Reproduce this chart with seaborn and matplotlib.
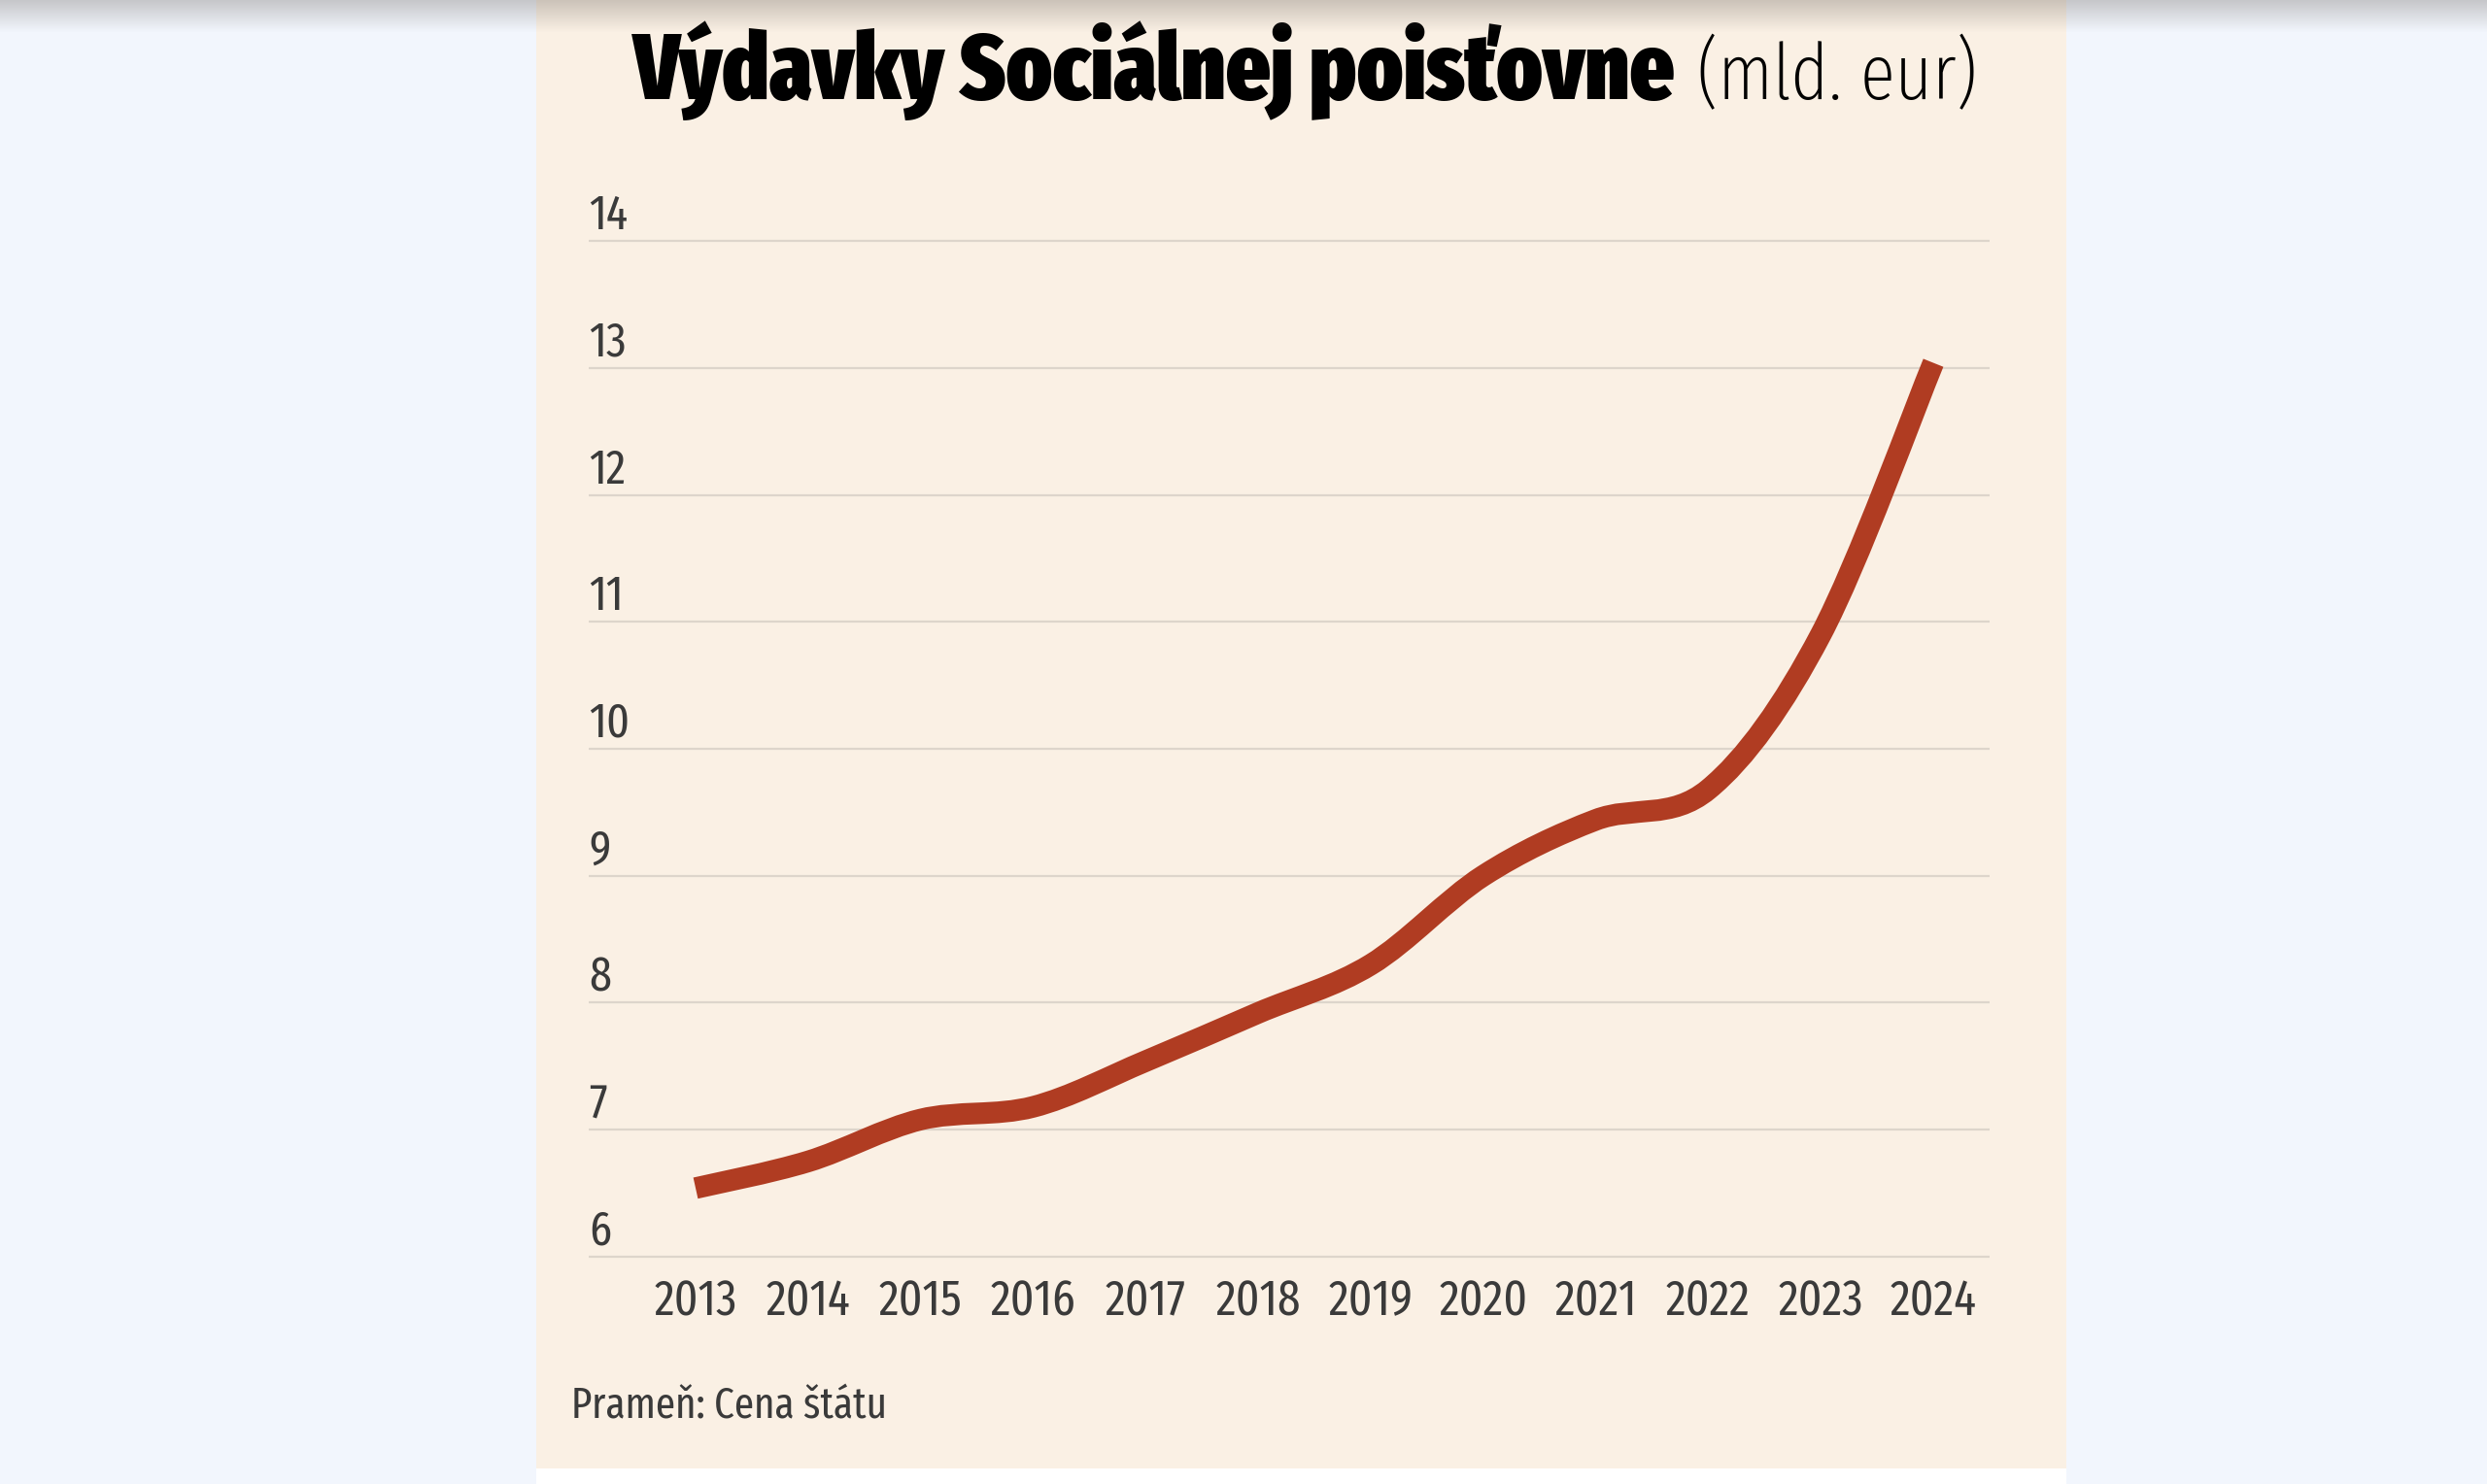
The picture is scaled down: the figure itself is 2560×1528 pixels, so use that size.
import matplotlib
matplotlib.use("Agg")
import matplotlib.pyplot as plt
import matplotlib.transforms as mtransforms
from matplotlib.path import Path
from matplotlib.patches import PathPatch, Rectangle
import seaborn as sns
import numpy as np
import pandas as pd

# data
years = [2013, 2014, 2015, 2016, 2017, 2018, 2019, 2020, 2021, 2022, 2023, 2024]
spending = [6.54, 6.75, 7.08, 7.18, 7.54, 7.92, 8.30, 9.00, 9.44, 9.68, 10.90, 13.04]
y_ticks = [6, 7, 8, 9, 10, 11, 12, 13, 14]
title_main = "Výdavky Sociálnej poisťovne"
title_unit = "(mld. eur)"
source_text = "Prameň: Cena štátu"

OUTER = "#F2F6FD"
PANEL = "#FAF0E4"
LINE = "#B03C22"
GRID = "#DDD5CB"
TEXT = "#3A3A3A"
W, H = 2560, 1528

sns.set_theme(style="white")
plt.rcParams['font.family'] = ['Fira Sans Extra Condensed', 'DejaVu Sans']

fig = plt.figure(figsize=(W / 100, H / 100), dpi=100)
fig.patch.set_facecolor(OUTER)

# beige panel + white strip under it
fig.patches.append(Rectangle((552 / W, 16 / H), (2127 - 552) / W, 1 - 16 / H,
                             transform=fig.transFigure, facecolor=PANEL, edgecolor='none', zorder=-2))
fig.patches.append(Rectangle((552 / W, 0), (2127 - 552) / W, 16 / H,
                             transform=fig.transFigure, facecolor='white', edgecolor='none', zorder=-2))

ax = fig.add_axes([606 / W, 1 - 1307 / H, (2048 - 606) / W, (1307 - 235) / H])
ax.set_facecolor('none')
ax.set_xlim(2012.05, 2024.5)
ax.set_ylim(5.9, 14.1)

df = pd.DataFrame({'year': years, 'spending': spending})

# gridlines
for v in y_ticks:
    ax.axhline(v, color=GRID, lw=1.6, zorder=1)

# smooth line: Catmull-Rom control points turned into cubic bezier segments
pts = df[['year', 'spending']].to_numpy(dtype=float)
ext = np.vstack([pts[0], pts, pts[-1]])
verts = [tuple(pts[0])]
codes = [Path.MOVETO]
for i in range(len(pts) - 1):
    p0, p1, p2, p3 = ext[i], ext[i + 1], ext[i + 2], ext[i + 3]
    c1 = p1 + (p2 - p0) / 6
    c2 = p2 - (p3 - p1) / 6
    verts += [tuple(c1), tuple(c2), tuple(p2)]
    codes += [Path.CURVE4] * 3
ax.add_patch(PathPatch(Path(verts, codes), facecolor='none', edgecolor=LINE,
                       lw=16, capstyle='butt', joinstyle='round', zorder=3))

# x ticks
ax.set_xticks(years)
ax.set_xticklabels([str(y) for y in years], fontsize=37, color=TEXT)
ax.tick_params(axis='x', length=0, pad=6)
ax.set_yticks([])
ax.set_xlabel('')
ax.set_ylabel('')
sns.despine(ax=ax, left=True, bottom=True)

# y tick labels sit above their gridline, left aligned
lab_tr = mtransforms.offset_copy(ax.get_yaxis_transform(), fig=fig, x=0, y=12, units='dots')
for v in y_ticks:
    ax.text(0, v, str(v), transform=lab_tr, ha='left', va='baseline',
            fontsize=36, color=TEXT)

# source
fig.text(588 / W, 1 - 1448 / H, source_text, fontsize=32, color=TEXT, ha='left', va='center')

# title in two weights, each fitted to its span in the reference
base = 1 - 102 / H
t1 = fig.text(652 / W, base, title_main, fontsize=72, weight=900, color='black', ha='left', va='baseline')
t2 = fig.text(1747 / W, base, title_unit, fontsize=72, weight=275, color='black', ha='left', va='baseline')
r = fig.canvas.get_renderer()
for t, target in ((t1, 1072), (t2, 288)):
    w = t.get_window_extent(r).width
    t.set_fontsize(72 * min(max(target / w, 0.8), 1.2))

# soft shadow at the top edge
sh = fig.add_axes([0, 1 - 34 / H, 1, 34 / H], zorder=10)
grad = np.zeros((34, 2, 4))
grad[..., 0] = 0.45
grad[..., 1] = 0.42
grad[..., 2] = 0.40
grad[..., 3] = np.linspace(0.34, 0.0, 34)[:, None]
sh.imshow(grad, aspect='auto', extent=(0, 1, 0, 1))
sh.axis('off')

fig.savefig('out.png', dpi=100, facecolor=fig.get_facecolor())
